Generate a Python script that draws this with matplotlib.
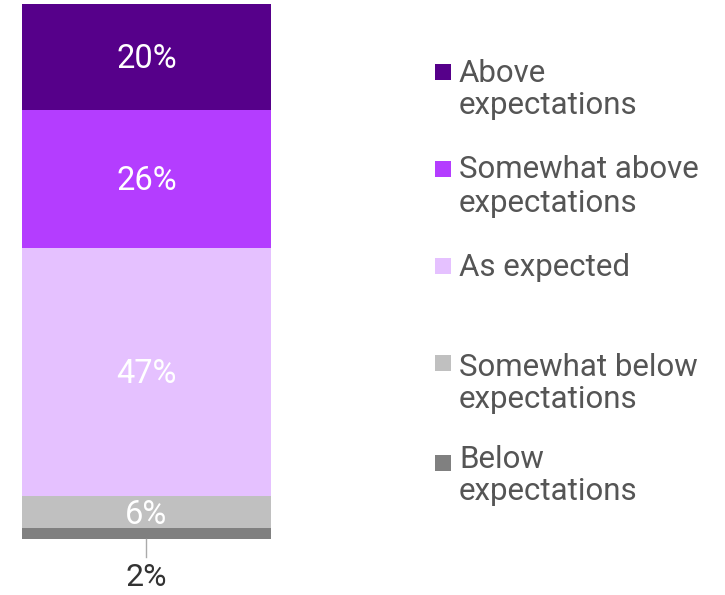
import matplotlib.pyplot as plt
from matplotlib.patches import Rectangle

# stacked from the bottom up
categories = ["Below\nexpectations", "Somewhat below\nexpectations", "As expected",
              "Somewhat above\nexpectations", "Above\nexpectations"]
shares = [2, 6, 47, 26, 20]
colors = ["#808080", "#c0c0c0", "#e5c1ff", "#b43dff", "#56008a"]

plt.rcParams["font.family"] = ["Roboto", "DejaVu Sans"]

W, H = 725, 595
fig = plt.figure(figsize=(W / 100, H / 100), dpi=100)


def fy(y):
    # pixel row from the top -> figure fraction
    return (H - y) / H


# bar axes sized to the column itself
x0, x1, ytop, ybot = 22, 271, 4, 538.7
ax = fig.add_axes([x0 / W, fy(ybot), (x1 - x0) / W, (ybot - ytop) / H])
ax.set_xlim(0, 1)
ax.set_ylim(0, sum(shares))
ax.axis("off")

bottom = 0
for cat, val, col in zip(categories, shares, colors):
    ax.bar(0.5, val, width=1, bottom=bottom, color=col, linewidth=0)
    mid = bottom + val / 2
    if val >= 5:
        ax.annotate(f"{val}%", xy=(0.5, mid), xytext=(0, -8.3),
                    textcoords="offset points", color="white", fontsize=23.5,
                    ha="center", va="baseline")
    else:
        # small slice gets its label below the bar with a leader line
        ax.plot([0.5, 0.5], [bottom - 0.1, bottom - 3.4], color="#aaaaaa",
                lw=1, clip_on=False)
        ax.annotate(f"{val}%", xy=(0.5, bottom), xytext=(0, -34),
                    textcoords="offset points", ha="center", va="baseline",
                    fontsize=23, color="#333333", annotation_clip=False)
    bottom += val

# legend drawn by hand, top to bottom
sq_top = [64, 161, 258, 355, 455]
baselines = [(81.5, 114.5), (178.5, 212), (276,), (376.5, 407.5), (468.5, 500.5)]
for cat, col, sy, bl in zip(categories[::-1], colors[::-1], sq_top, baselines):
    fig.patches.append(Rectangle((435 / W, fy(sy + 16)), 16 / W, 16 / H,
                                 transform=fig.transFigure, color=col, lw=0))
    for line, y in zip(cat.split("\n"), bl):
        fig.text(459 / W, fy(y), line, fontsize=22.5, color="#555555",
                 ha="left", va="baseline")

fig.savefig("out.png", dpi=100)
